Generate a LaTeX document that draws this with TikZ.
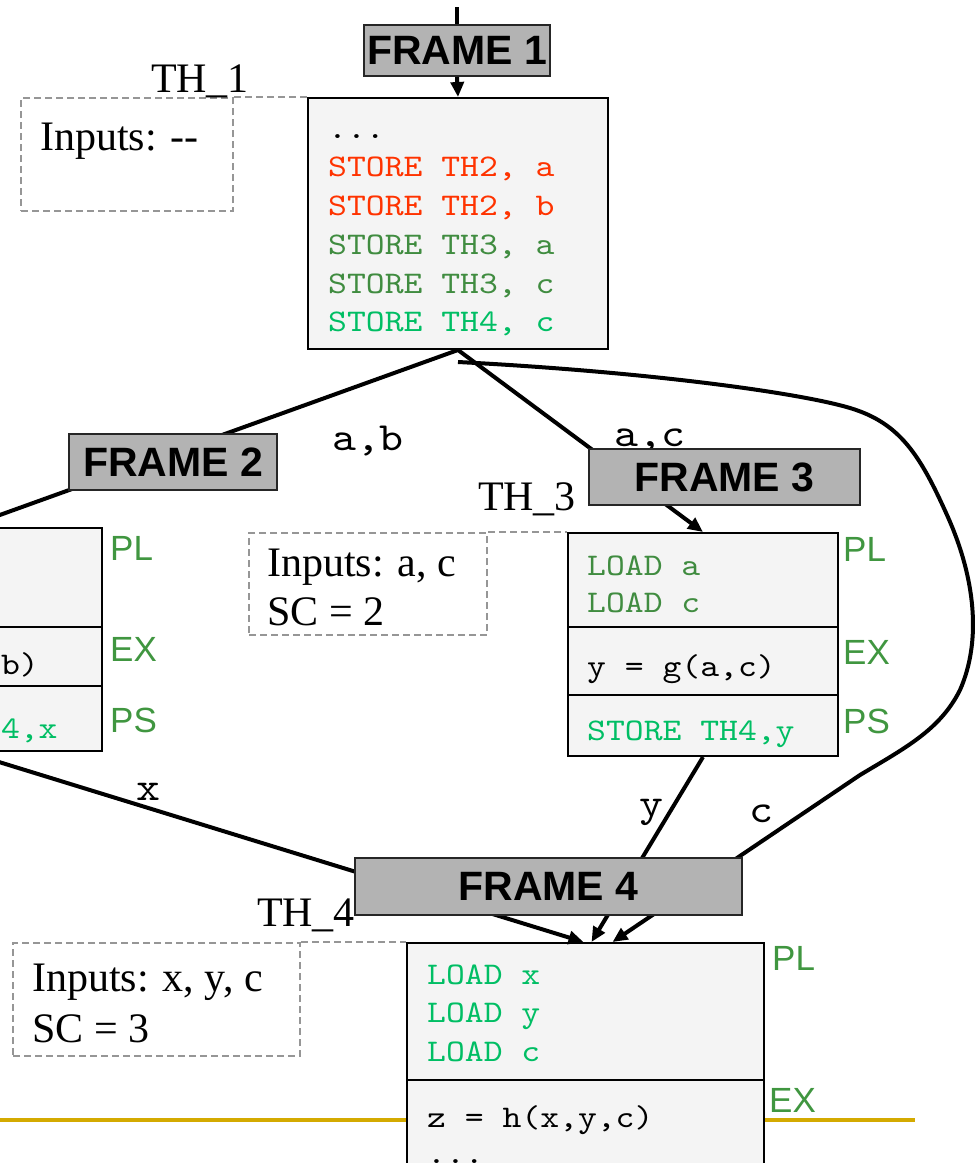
\documentclass[tikz,border=0pt]{standalone}
\usepackage{fontspec}
\setmainfont{Liberation Serif}
\setsansfont{Liberation Sans}
\newfontfamily\codefont[FakeStretch=1.14]{lmmono10-regular.otf}
\usetikzlibrary{arrows.meta,calc}

\definecolor{boxfill}{RGB}{244,244,244}
\definecolor{framefill}{RGB}{179,179,179}
\definecolor{dashgray}{RGB}{150,150,150}
\definecolor{codered}{RGB}{255,51,0}
\definecolor{codedark}{RGB}{64,140,64}
\definecolor{codebright}{RGB}{0,190,100}
\definecolor{stagegreen}{RGB}{64,150,64}
\definecolor{rulegold}{RGB}{212,170,0}

\begin{document}
\begin{tikzpicture}[x=1pt,y=-1pt,
  codebox/.style={draw=black, line width=2pt, fill=boxfill, inner sep=0pt, anchor=north west},
  divider/.style={draw=black, line width=2pt},
  framebox/.style={draw=black!85, line width=2pt, fill=framefill, inner sep=0pt,
    font=\sffamily\bfseries\fontsize{41}{49}\selectfont},
  inbox/.style={draw=dashgray, line width=2pt, dash pattern=on 7pt off 4pt, inner sep=0pt, anchor=north west},
  inline/.style={draw=dashgray, line width=2pt, dash pattern=on 7pt off 4pt},
  code/.style={font=\codefont\fontsize{31.5}{38}\selectfont, anchor=base west, inner sep=0pt},
  serif/.style={font=\fontsize{42}{50}\selectfont, anchor=base west, inner sep=0pt},
  thname/.style={font=\fontsize{42}{50}\selectfont, anchor=base, inner sep=0pt},
  stage/.style={font=\sffamily\fontsize{35}{42}\selectfont, text=stagegreen, anchor=base west, inner sep=0pt},
  elabel/.style={font=\codefont\fontsize{40}{48}\selectfont, anchor=base, inner sep=0pt},
  conn/.style={line width=4pt},
  arr/.style={conn, -{Triangle[length=15pt,width=13pt]}},
  rule/.style={draw=rulegold, line width=4pt}
]
\useasboundingbox (0,0) rectangle (976,1163);
\clip (0,0) rectangle (976,1163);

% slide rule behind the last frame
\coordinate (ruleL) at (0,1120);
\coordinate (ruleR) at (915,1120);
\draw[rule] (ruleL) -- (ruleR);

% ---- thread frames (code boxes) ----
\node[codebox, minimum width=300pt, minimum height=251pt] (b1) at (307,97) {};
\node[codebox, minimum width=271pt, minimum height=223pt] (b2) at (-170,527) {};
\node[codebox, minimum width=270pt, minimum height=223pt] (b3) at (567,532) {};
\node[codebox, minimum width=357pt, minimum height=260pt] (b4) at (406,942) {};

% pre-load / execute / post-store separators
\draw[divider] (b2.west |- 0,627) -- (b2.east |- 0,627);
\draw[divider] (b2.west |- 0,686) -- (b2.east |- 0,686);
\draw[divider] (b3.west |- 0,627) -- (b3.east |- 0,627);
\draw[divider] (b3.west |- 0,695) -- (b3.east |- 0,695);
\draw[divider] (b4.west |- 0,1080) -- (b4.east |- 0,1080);

% code of thread 1
\node[code] (c1a) at (328,138) {...};
\node[code, text=codered] (c1b) at (328,176) {STORE TH2, a};
\node[code, text=codered] (c1c) at (328,215) {STORE TH2, b};
\node[code, text=codedark] (c1d) at (328,254) {STORE TH3, a};
\node[code, text=codedark] (c1e) at (328,293) {STORE TH3, c};
\node[code, text=codebright] (c1f) at (328,331) {STORE TH4, c};

% code of thread 2
\node[code] (c2a) at (-150,674) {x = f(a,b)};
\node[code, text=codebright] (c2b) at (-150,738) {STORE TH4,x};

% code of thread 3
\node[code, text=codedark] (c3a) at (587,575) {LOAD a};
\node[code, text=codedark] (c3b) at (587,612) {LOAD c};
\node[code] (c3c) at (587,676) {y = g(a,c)};
\node[code, text=codebright] (c3d) at (587,740) {STORE TH4,y};

% code of thread 4
\node[code, text=codebright] (c4a) at (427,984) {LOAD x};
\node[code, text=codebright] (c4b) at (427,1022) {LOAD y};
\node[code, text=codebright] (c4c) at (427,1061) {LOAD c};
\node[code] (c4d) at (427,1127) {z = h(x,y,c)};
\node[code] (c4e) at (427,1163) {...};

% stage labels
\node[stage] (s2pl) at (110,560) {PL};
\node[stage] (s2ex) at (110,661) {EX};
\node[stage] (s2ps) at (110,732) {PS};
\node[stage] (s3pl) at (843,561) {PL};
\node[stage] (s3ex) at (843,664) {EX};
\node[stage] (s3ps) at (843,733) {PS};
\node[stage] (s4pl) at (772,970) {PL};
\node[stage] (s4ex) at (769,1112) {EX};

% ---- input descriptors ----
\node[inbox, minimum width=212pt, minimum height=113pt] (d1) at (20,97) {};
\draw[inline] (d1.north east) -- (b1.north west);
\node[serif] (i1a) at (40,150) {Inputs: -{}-};

\node[inbox, minimum width=238pt, minimum height=102pt] (d3) at (248,532) {};
\draw[inline] (d3.north east) -- (b3.north west);
\node[serif] (i3a) at (267,576) {Inputs: a, c};
\node[serif] (i3b) at (267,625) {SC = 2};

\node[inbox, minimum width=287pt, minimum height=113pt] (d4) at (12,942) {};
\draw[inline] (d4.north east) -- (b4.north west);
\node[serif] (i4a) at (32,991) {Inputs: x, y, c};
\node[serif] (i4b) at (32,1042) {SC = 3};

% thread names
\node[thname] (n1) at (200,92) {TH\_1};
\node[thname] (n3) at (527,510) {TH\_3};
\node[thname] (n4) at (306,926) {TH\_4};

% ---- data-flow connectors ----
\draw[arr] (b1.south) -- (b2.north);
\draw[arr] (b1.south) -- (b3.north);
\draw[arr] (b2.south) -- ([xshift=-2pt]b4.north);
\draw[arr] (b3.south) -- ([xshift=6pt]b4.north);
\draw[arr] ([yshift=-12pt]b1.south)
   .. controls (650,372) and (800,393) .. (850,408)
   .. controls (900,423) and (920,455) .. (947,515)
   .. controls (975,577) and (982,640) .. (960,690)
   .. controls (940,730) and (905,748) .. (860,775)
   -- ([xshift=27pt]b4.north);

% connector labels
\node[elabel] (la) at (368,450) {a,b};
\node[elabel] (lb) at (650,446) {a,c};
\node[elabel] (lx) at (148,800) {x};
\node[elabel] (ly) at (651,816) {y};
\node[elabel] (lc) at (761,822) {c};

% ---- frame headers ----
\node[framebox, minimum width=186pt, minimum height=51pt] (f1) at (457,50.5) {FRAME 1};
\node[framebox, minimum width=208pt, minimum height=56pt] (f2) at (173,462) {FRAME 2};
\node[framebox, minimum width=271pt, minimum height=56pt] (f3) at (724.5,477) {FRAME 3};
\node[framebox, minimum width=387pt, minimum height=57pt] (f4) at (548.5,886.5) {FRAME 4};

\coordinate (entry) at (457,7);
\draw[conn] (entry) -- (f1.north);
\draw[arr] (f1.south) -- (b1.north);
\end{tikzpicture}
\end{document}
